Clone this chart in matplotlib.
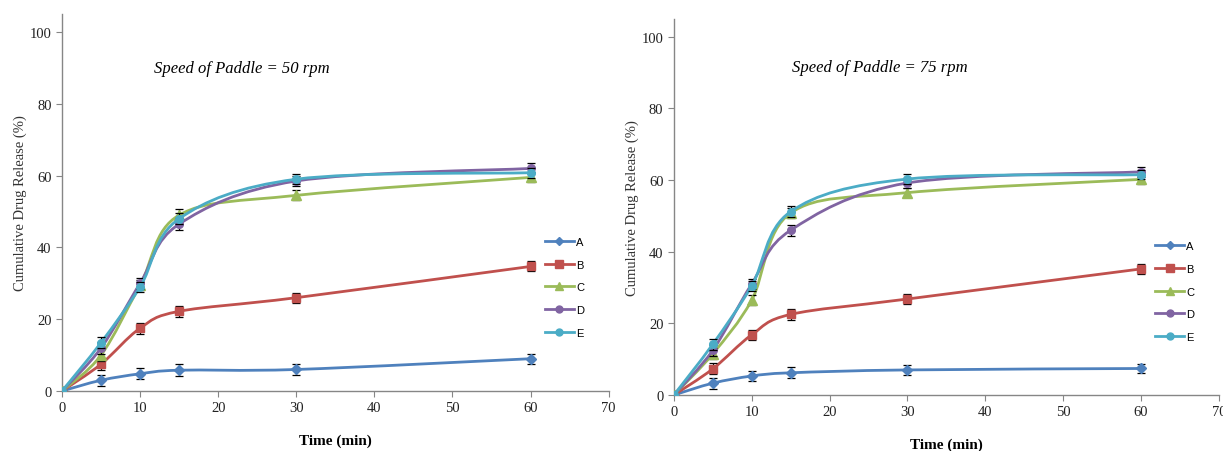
import numpy as np
import matplotlib
matplotlib.use("Agg")
import matplotlib.pyplot as plt
from matplotlib.path import Path
from matplotlib.patches import PathPatch

# time points (min)
time = [0, 5, 10, 15, 30, 60]
series = ["A", "B", "C", "D", "E"]

# 50 rpm
a_50 = [0, 3.0, 4.8, 5.8, 6.0, 9.0]
b_50 = [0, 7.5, 17.5, 22.2, 26.0, 34.7]
c_50 = [0, 10.0, 29.5, 49.0, 54.5, 59.5]
d_50 = [0, 12.0, 30.0, 46.5, 58.5, 62.0]
e_50 = [0, 13.5, 29.0, 48.0, 59.0, 60.8]
err_50 = [0, 1.6, 1.5, 1.6, 1.4, 1.4]

# 75 rpm
a_75 = [0, 3.3, 5.3, 6.2, 7.0, 7.4]
b_75 = [0, 7.3, 16.8, 22.5, 26.8, 35.2]
c_75 = [0, 11.5, 26.5, 50.8, 56.5, 60.2]
d_75 = [0, 12.5, 31.0, 46.0, 59.2, 62.3]
e_75 = [0, 14.2, 30.5, 51.2, 60.3, 61.5]
err_75 = [0, 1.5, 1.4, 1.5, 1.3, 1.3]

colors = ["#4F81BD", "#C0504D", "#9BBB59", "#8064A2", "#4BACC6"]
markers = ["D", "s", "^", "o", "o"]
msizes = [5, 6, 6.5, 5.5, 5.5]


def smooth_path(x, y):
    # Excel-like smoothed line: Catmull-Rom segments as cubic Beziers
    p = np.column_stack([x, y]).astype(float)
    n = len(p)
    verts = [p[0]]
    codes = [Path.MOVETO]
    for i in range(n - 1):
        p0 = p[i - 1] if i > 0 else p[i]
        p3 = p[i + 2] if i + 2 < n else p[i + 1]
        c1 = p[i] + (p[i + 1] - p0) / 6.0
        c2 = p[i + 1] - (p3 - p[i]) / 6.0
        verts += [c1, c2, p[i + 1]]
        codes += [Path.CURVE4] * 3
    return Path(verts, codes)


def draw_panel(ax, data, err, title, tx, ty):
    for k, (name, vals) in enumerate(zip(series, data)):
        ax.add_patch(PathPatch(smooth_path(time, vals), facecolor="none",
                               edgecolor=colors[k], lw=2.0, zorder=2 + k))
        ax.errorbar(time, vals, yerr=err, fmt="none", ecolor="black",
                    elinewidth=0.9, capsize=3, capthick=0.9, zorder=2 + k)
        ax.plot(time, vals, linestyle="none", marker=markers[k],
                ms=msizes[k], color=colors[k], zorder=2.5 + k)
        ax.plot([], [], color=colors[k], lw=2.0, marker=markers[k],
                ms=msizes[k] - 0.5, label=name)
    ax.set_xlim(0, 70)
    ax.set_ylim(0, 105)
    ax.set_xticks(range(0, 71, 10))
    ax.set_yticks(range(0, 101, 20))
    for s in ["top", "right"]:
        ax.spines[s].set_visible(False)
    for s in ["left", "bottom"]:
        ax.spines[s].set_color("#868686")
        ax.spines[s].set_linewidth(1.0)
    ax.tick_params(direction="out", length=4, color="#868686",
                   labelsize=10.5, labelcolor="#222222")
    for lab in ax.get_xticklabels() + ax.get_yticklabels():
        lab.set_family("Liberation Serif")
    ax.set_xlabel("Time (min)", family="Liberation Serif", fontsize=11,
                  fontweight="bold", labelpad=14)
    ax.set_ylabel("Cumulative Drug Release (%)", family="Liberation Serif",
                  fontsize=10.5, labelpad=2, color="#333333")
    ax.text(tx, ty, title, family="Liberation Serif", style="italic",
            fontsize=12, ha="center", va="center")
    leg = ax.legend(loc="center left", bbox_to_anchor=(0.865, 0.275),
                    frameon=False, handlelength=2.6, handletextpad=0.2,
                    labelspacing=1.15, prop={"family": "Liberation Sans", "size": 8})
    return leg


fig = plt.figure(figsize=(12.23, 4.52), dpi=100)
ax1 = fig.add_axes([0.0507, 0.1327, 0.447, 0.834])
ax2 = fig.add_axes([0.551, 0.1239, 0.4456, 0.832])

draw_panel(ax1, [a_50, b_50, c_50, d_50, e_50], err_50,
           "Speed of Paddle = 50 rpm", 23, 90)
draw_panel(ax2, [a_75, b_75, c_75, d_75, e_75], err_75,
           "Speed of Paddle = 75 rpm", 26.5, 91.5)

fig.savefig("out.png", dpi=100)
